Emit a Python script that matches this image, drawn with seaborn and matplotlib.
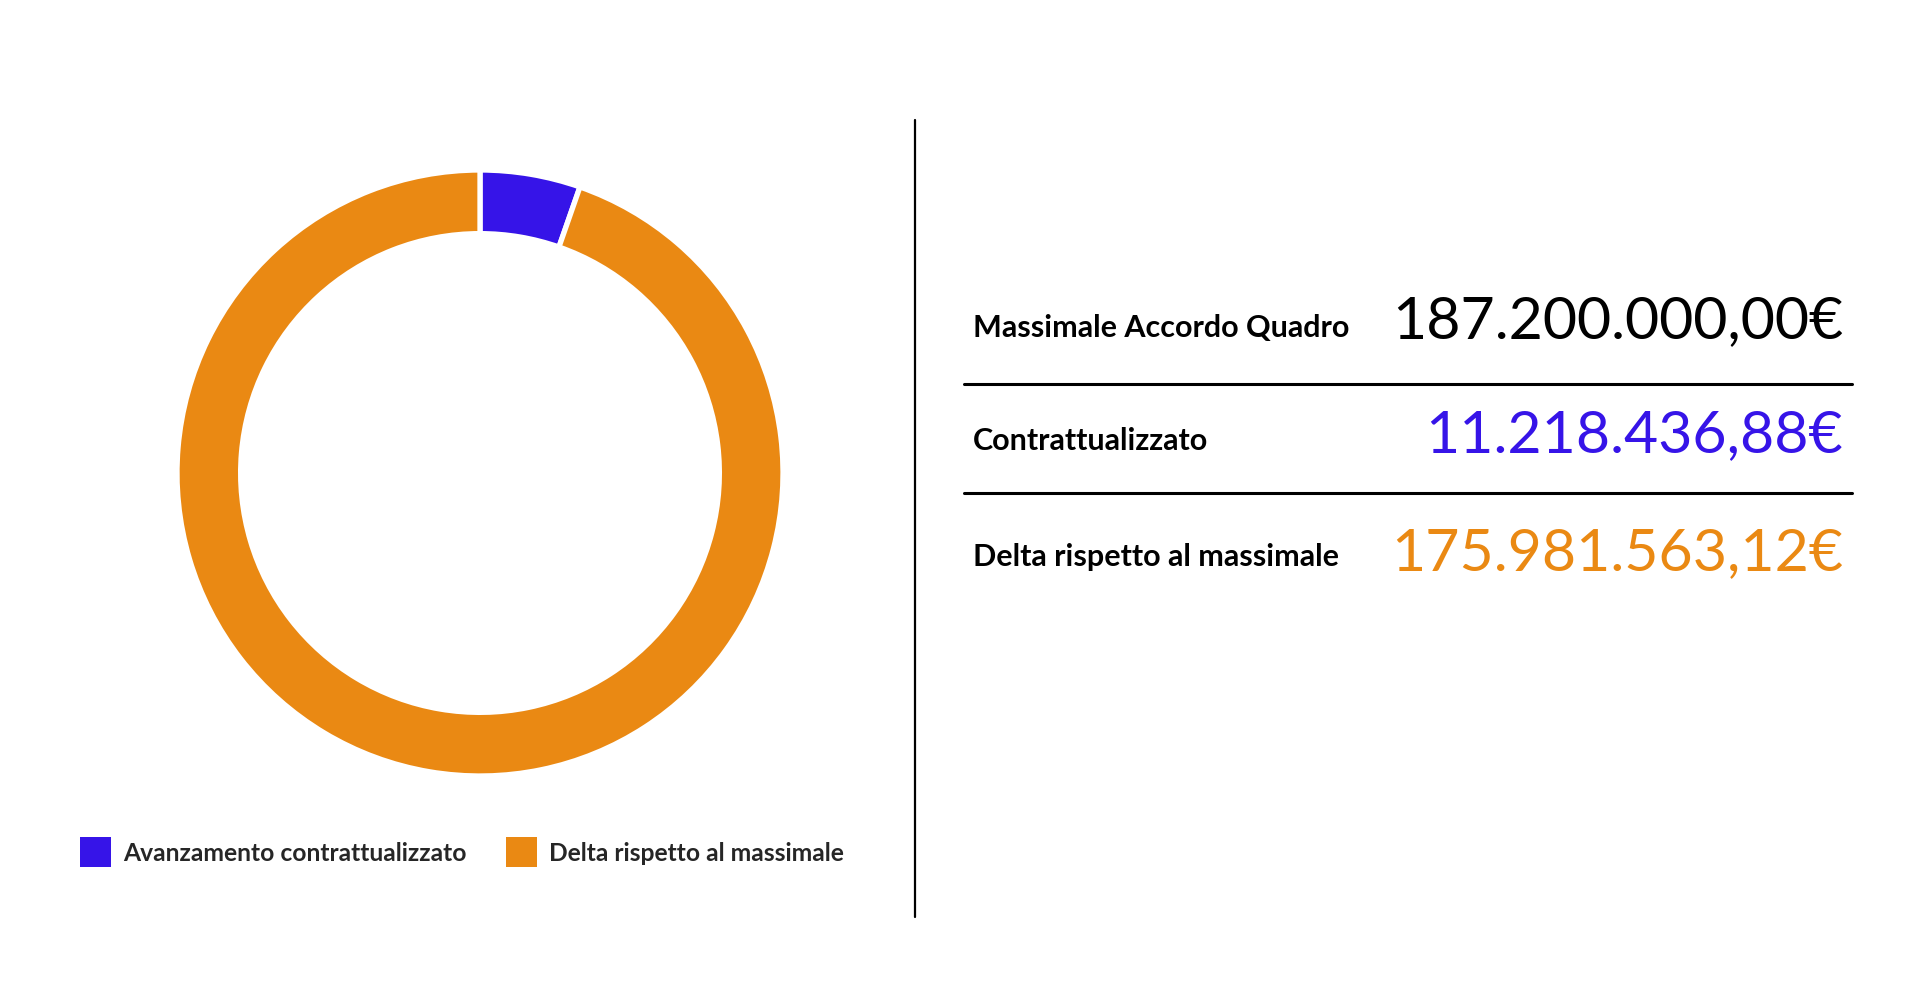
import matplotlib
matplotlib.use("Agg")
import matplotlib.pyplot as plt
import seaborn as sns
from matplotlib.lines import Line2D

# ---- data ----
categories = ["Avanzamento contrattualizzato", "Delta rispetto al massimale"]
pie_values = [5.35, 94.65]          # shares as drawn in the ring (percent)
colors = ["#3614E8", "#EA8913"]
table_labels = ["Massimale Accordo Quadro", "Contrattualizzato", "Delta rispetto al massimale"]
table_values = ["187.200.000,00€", "11.218.436,88€", "175.981.563,12€"]
table_colors = ["#000000", "#3614E8", "#EA8913"]

sns.set_theme(style="white")
plt.rcParams["font.family"] = ["Lato", "DejaVu Sans"]

W, H = 1920, 1004
fig = plt.figure(figsize=(W / 100, H / 100), dpi=100)
fig.patch.set_facecolor("white")

def fx(px):
    return px / W

def fy(py):
    return 1 - py / H

# donut
cx, cy, r = 480, 474, 303
ax = fig.add_axes([fx(cx - r), fy(cy + r), 2 * r / W, 2 * r / H])
wedges, _ = ax.pie(pie_values, colors=colors, startangle=90, counterclock=False,
                   radius=1.0,
                   wedgeprops=dict(width=0.21, edgecolor="white", linewidth=3.8))
ax.set_xlim(-1, 1)
ax.set_ylim(-1, 1)
ax.set_aspect("equal")
ax.axis("off")

# legend
leg = fig.legend(wedges, categories, loc="center left",
                 bbox_to_anchor=(fx(80), fy(853)), ncol=2, frameon=False,
                 borderpad=0, borderaxespad=0, handlelength=1.26, handleheight=1.56,
                 handletextpad=0.5, columnspacing=1.6,
                 prop=dict(family=["Lato", "DejaVu Sans"], weight="bold", size=17.7))
for h in leg.legend_handles:
    h.set_edgecolor("none")
    h.set_linewidth(0)

# divider lines
fig.add_artist(Line2D([fx(915), fx(915)], [fy(121), fy(918)], color="black", lw=1.6))
for yy in [385, 494]:
    fig.add_artist(Line2D([fx(964), fx(1852)], [fy(yy), fy(yy)], color="black", lw=2.2))

# table text
label_base = [337, 450, 566]
value_base = [338, 452, 570]
for lab, val, col, lb, vb in zip(table_labels, table_values, table_colors, label_base, value_base):
    fig.text(fx(973), fy(lb), lab, ha="left", va="baseline", fontsize=22,
             fontweight="bold", color="black")
    fig.text(fx(1843), fy(vb), val, ha="right", va="baseline", fontsize=42.5,
             color=col)

fig.savefig("out.png", dpi=100, facecolor="white")
